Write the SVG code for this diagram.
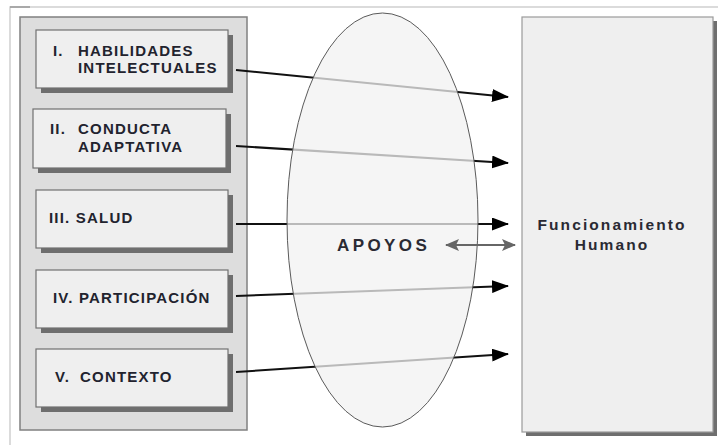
<svg xmlns="http://www.w3.org/2000/svg" width="718" height="445" viewBox="0 0 718 445">
<defs>
<style>
.frame{stroke:#cfcfcf;stroke-width:1.5;fill:none}
.panel{fill:#dddddd;stroke:#808080;stroke-width:1.5}
.box{fill:#efefef;stroke:#707070;stroke-width:1.2}
.shadow{fill:#6e6e6e}
.lbl{font-family:"Liberation Sans",Arial,sans-serif;font-weight:bold;font-size:15px;letter-spacing:1.2px;fill:#22232e}
.conn{stroke:#111;stroke-width:2;fill:none;marker-end:url(#ah)}
.dbl{stroke:#666;stroke-width:2;fill:none;marker-end:url(#gh);marker-start:url(#gh)}
</style>
<marker id="ah" markerWidth="17" markerHeight="13" refX="16" refY="6.5" orient="auto" markerUnits="userSpaceOnUse" viewBox="0 0 17 13">
<path d="M0,0 L17,6.5 L0,13 z" fill="#000"/>
</marker>
<marker id="gh" markerWidth="14" markerHeight="12" refX="13" refY="6" orient="auto-start-reverse" markerUnits="userSpaceOnUse" viewBox="0 0 14 12">
<path d="M0,0 L14,6 L0,12 L3,6 z" fill="#666"/>
</marker>
</defs>
<rect width="718" height="445" fill="#ffffff"/>
<path class="frame" d="M10,445 L10,7 L718,7"/>
<path d="M10,7 L30,7" stroke="#999" stroke-width="1.5"/>

<g id="panel">
<rect class="panel" x="20" y="17" width="227" height="413"/>
</g>

<g id="n1">
<rect class="shadow" x="41" y="35" width="192" height="58"/>
<rect class="box" x="36" y="30" width="192" height="58"/>
<text class="lbl" x="53" y="56">I.</text>
<text class="lbl" x="78" y="56">HABILIDADES</text>
<text class="lbl" x="78" y="73">INTELECTUALES</text>
</g>
<g id="n2">
<rect class="shadow" x="38" y="114" width="193" height="59"/>
<rect class="box" x="33" y="109" width="193" height="59"/>
<text class="lbl" x="50" y="134">II.</text>
<text class="lbl" x="78" y="134">CONDUCTA</text>
<text class="lbl" x="78" y="152">ADAPTATIVA</text>
</g>
<g id="n3">
<rect class="shadow" x="41" y="195" width="192" height="58"/>
<rect class="box" x="36" y="190" width="192" height="58"/>
<text class="lbl" x="49" y="223">III. SALUD</text>
</g>
<g id="n4">
<rect class="shadow" x="41" y="275" width="192" height="58"/>
<rect class="box" x="36" y="270" width="192" height="58"/>
<text class="lbl" x="53" y="303">IV. PARTICIPACIÓN</text>
</g>
<g id="n5">
<rect class="shadow" x="41" y="354" width="192" height="58"/>
<rect class="box" x="36" y="349" width="192" height="58"/>
<text class="lbl" x="55" y="382">V.</text>
<text class="lbl" x="80" y="382">CONTEXTO</text>
</g>

<g id="connectors">
<line class="conn" x1="236" y1="70" x2="508" y2="97"/>
<line class="conn" x1="236" y1="146" x2="508" y2="163"/>
<line class="conn" x1="236" y1="224" x2="508" y2="224"/>
<line class="conn" x1="236" y1="296" x2="508" y2="286"/>
<line class="conn" x1="236" y1="372" x2="508" y2="354"/>
</g>

<g id="apoyos">
<ellipse cx="382.5" cy="220" rx="95.5" ry="207" fill="#f2f2f2" fill-opacity="0.75" stroke="#5a5a5a" stroke-width="1"/>
<text x="337" y="251" font-family="'Liberation Sans',Arial,sans-serif" font-weight="bold" font-size="17" letter-spacing="3.4" fill="#2a2a33">APOYOS</text>
<line class="dbl" x1="446" y1="245" x2="515" y2="245"/>
</g>

<g id="funcionamiento">
<rect class="shadow" x="526" y="21" width="191" height="415"/>
<rect x="522" y="17" width="191" height="415" fill="#efefef" stroke="#9a9a9a" stroke-width="1.2"/>
<text x="612" y="230" text-anchor="middle" font-family="'Liberation Sans',Arial,sans-serif" font-weight="bold" font-size="15.5" letter-spacing="2.1" fill="#2a2a33">Funcionamiento</text>
<text x="612" y="250" text-anchor="middle" font-family="'Liberation Sans',Arial,sans-serif" font-weight="bold" font-size="15.5" letter-spacing="2.1" fill="#2a2a33">Humano</text>
</g>
</svg>
